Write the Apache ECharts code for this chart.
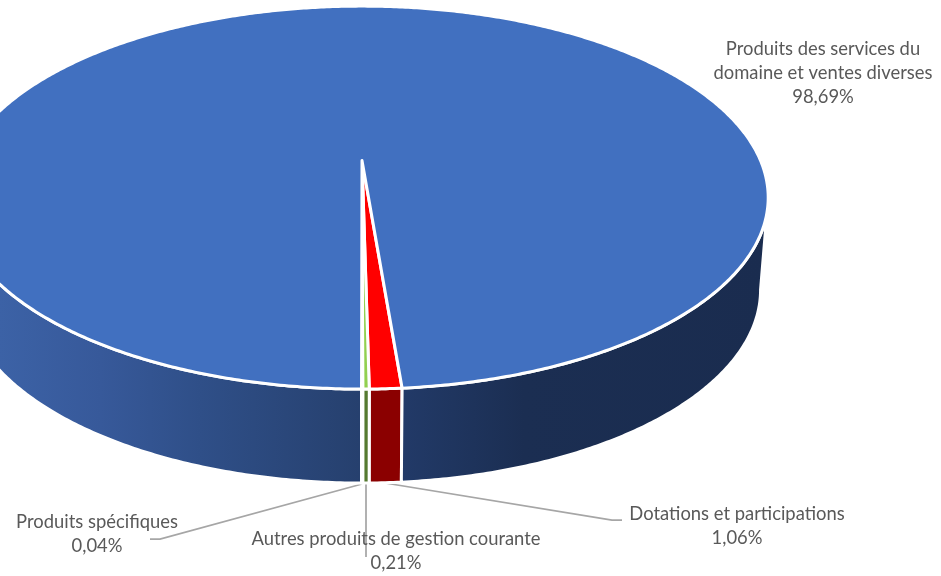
<!DOCTYPE html>
<html>
<head>
<meta charset="utf-8">
<title>Recettes</title>
<style>
	html, body { margin: 0; padding: 0; background: #fff; }
	#chart { width: 941px; height: 576px; }
</style>
<script src="https://cdn.jsdelivr.net/npm/echarts@6/dist/echarts.min.js"></script>
</head>
<body>
<div id="chart"></div>
<script>
// slices in clockwise order, starting at the front of the pie
const categories = [
	"Dotations et participations",
	"Autres produits de gestion courante",
	"Produits spécifiques",
	"Produits des services du domaine et ventes diverses"
];
const values = [1.06, 0.21, 0.04, 98.69];
const topColors = ["#ff0000", "#92d050", "#5b9bd5", "#4170c0"];
const wallColors = ["#8b0000", "#557a30", "#2e5f8a", null];

// label text, one array per line, percentage added below
const labelLines = [
	["Dotations et participations"],
	["Autres produits de gestion courante"],
	["Produits spécifiques"],
	["Produits des services du", "domaine et ventes diverses"]
];
const labelPos = [[737, 514], [396, 539], [97, 522], [823, 49]];
const leaderLines = [
	[[385, 483], [612, 520], [622, 520]],
	[[366, 484], [366, 557]],
	[[362, 484], [160, 539], [150, 539]]
];

// perspective of the two discs: x = cx + a*u/(1-k*v), y = (b*v+c)/(1-k*v)
const cx = 362;
const k = 0.1937;
const topDisc = { a: 398.5, b: 153.2, c: 160.5 };
const lowDisc = { a: 391, b: 137, c: 252.5 };
const startAngle = 4.66;
const sideLimit = Math.acos(k) * 180 / Math.PI;

// side wall of the blue slice is shaded along x
const blueWall = new echarts.graphic.LinearGradient(-43, 0, 767, 0, [
	{ offset: 0, color: "#3f66ad" },
	{ offset: 0.053, color: "#3c62a6" },
	{ offset: 0.177, color: "#37599a" },
	{ offset: 0.30, color: "#2f4f88" },
	{ offset: 0.497, color: "#26406e" },
	{ offset: 0.549, color: "#223a68" },
	{ offset: 0.70, color: "#1b2e52" },
	{ offset: 1, color: "#1a2c4f" }
], true);

function rim(disc, angle) {
	const rad = angle * Math.PI / 180;
	const u = Math.sin(rad), v = Math.cos(rad);
	const d = 1 - k * v;
	return [cx + disc.a * u / d, (disc.b * v + disc.c) / d];
}

function arc(disc, from, to) {
	const n = Math.max(2, Math.ceil(Math.abs(to - from) / 0.5));
	const pts = [];
	for (let i = 0; i <= n; i++) {
		pts.push(rim(disc, from + (to - from) * i / n));
	}
	return pts;
}

// [from, to] angle of each slice, going clockwise
const total = values.reduce((a, b) => a + b, 0);
let cursor = startAngle;
const spans = values.map(val => {
	const span = [cursor, cursor - val / total * 360];
	cursor = span[1];
	return span;
});

const lineStyle = { stroke: "#fff", lineWidth: 3, lineJoin: "round" };

function renderWall(params) {
	const i = params.dataIndex;
	const [from, to] = spans[i];
	const fill = wallColors[i] || blueWall;
	const children = [];
	// only the front of the wall can be seen, a slice may cross it twice
	[0, -360].forEach(turn => {
		const hi = Math.min(from, sideLimit + turn);
		const lo = Math.max(to, -sideLimit + turn);
		if (hi > lo) {
			children.push({
				type: "polygon",
				shape: { points: arc(topDisc, hi, lo).concat(arc(lowDisc, lo, hi)) },
				style: Object.assign({ fill }, lineStyle)
			});
		}
	});
	return { type: "group", children };
}

function renderTop(params) {
	const i = params.dataIndex;
	const [from, to] = spans[i];
	return {
		type: "polygon",
		shape: { points: [[cx, topDisc.c]].concat(arc(topDisc, from, to)) },
		style: Object.assign({ fill: topColors[i] }, lineStyle)
	};
}

function pct(val) {
	return val.toFixed(2).replace(".", ",") + "%";
}

const graphics = [];
leaderLines.forEach(points => {
	graphics.push({
		type: "polyline",
		shape: { points },
		style: { stroke: "#a6a6a6", lineWidth: 1.75, fill: null }
	});
});
categories.forEach((name, i) => {
	const lines = labelLines[i].concat(pct(values[i]));
	lines.forEach((text, j) => {
		graphics.push({
			type: "text",
			x: labelPos[i][0],
			y: labelPos[i][1] + j * 24,
			style: {
				text,
				fill: "#595959",
				font: '18.4px Lato, "Open Sans", sans-serif',
				align: "center",
				verticalAlign: "middle"
			}
		});
	});
});

const myChart = echarts.init(document.getElementById("chart"));
myChart.setOption({
	animation: false,
	backgroundColor: "#fff",
	graphic: graphics,
	series: [
		{ type: "custom", coordinateSystem: "none", renderItem: renderWall, data: values, silent: true, z: 1 },
		{ type: "custom", coordinateSystem: "none", renderItem: renderTop, data: values, silent: true, z: 2 }
	]
});
</script>
</body>
</html>
